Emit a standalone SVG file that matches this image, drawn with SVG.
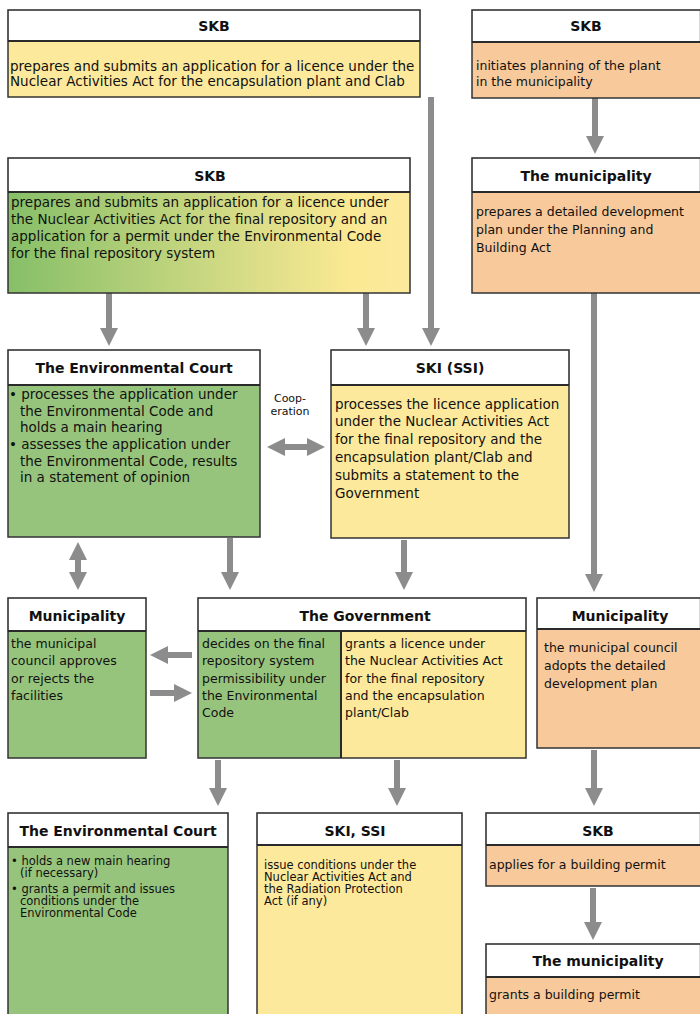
<svg xmlns="http://www.w3.org/2000/svg" width="700" height="1014" viewBox="0 0 700 1014">
<defs>
<style>
.hd{fill:#ffffff;stroke:#b0b0b0;stroke-width:1}
.ol{fill:none;stroke:#333;stroke-width:1.5}
.sep{stroke:#2a2a2a;stroke-width:2}
.g{fill:#97c47c}
.y{fill:#fde99c}
.o{fill:#f8c99b}
.t{font-family:"DejaVu Sans",Verdana,sans-serif;font-weight:bold;font-size:14px;text-anchor:middle;fill:#111}
.b{font-family:"DejaVu Sans",Verdana,sans-serif;font-size:12.5px;fill:#111}
.l{font-family:"DejaVu Sans",Verdana,sans-serif;font-size:13.5px;fill:#111}
.s{font-family:"DejaVu Sans",Verdana,sans-serif;font-size:11.5px;fill:#111}
.c{font-family:"DejaVu Sans",Verdana,sans-serif;font-size:11px;fill:#111;text-anchor:middle}
.ar{stroke:#8c8c8c;stroke-width:6;fill:none}
</style>
<linearGradient id="gy" x1="0" y1="0" x2="1" y2="0">
<stop offset="0" stop-color="#86bf68"/>
<stop offset="0.85" stop-color="#fbe993"/>
<stop offset="1" stop-color="#fde99c"/>
</linearGradient>
<marker id="ah" viewBox="0 0 18 18" markerWidth="18" markerHeight="18" refX="4" refY="9" orient="auto-start-reverse" markerUnits="userSpaceOnUse">
<path d="M0,0 L18,9 L0,18 z" fill="#8c8c8c"/>
</marker>
</defs>
<rect width="700" height="1014" fill="#ffffff"/>

<g id="connectors">
<line class="ar" x1="595" y1="98" x2="595" y2="140" marker-end="url(#ah)"/>
<line class="ar" x1="431" y1="97" x2="431" y2="332" marker-end="url(#ah)"/>
<line class="ar" x1="109" y1="293" x2="109" y2="332" marker-end="url(#ah)"/>
<line class="ar" x1="366" y1="293" x2="366" y2="332" marker-end="url(#ah)"/>
<line class="ar" x1="594" y1="293" x2="594" y2="578" marker-end="url(#ah)"/>
<line class="ar" x1="281" y1="447" x2="311" y2="447" marker-start="url(#ah)" marker-end="url(#ah)"/>
<line class="ar" x1="78" y1="556" x2="78" y2="576" marker-start="url(#ah)" marker-end="url(#ah)"/>
<line class="ar" x1="230" y1="538" x2="230" y2="576" marker-end="url(#ah)"/>
<line class="ar" x1="404" y1="540" x2="404" y2="576" marker-end="url(#ah)"/>
<line class="ar" x1="192" y1="655" x2="164" y2="655" marker-end="url(#ah)"/>
<line class="ar" x1="150" y1="693" x2="178" y2="693" marker-end="url(#ah)"/>
<line class="ar" x1="218" y1="760" x2="218" y2="792" marker-end="url(#ah)"/>
<line class="ar" x1="397" y1="760" x2="397" y2="792" marker-end="url(#ah)"/>
<line class="ar" x1="594" y1="750" x2="594" y2="792" marker-end="url(#ah)"/>
<line class="ar" x1="593" y1="888" x2="593" y2="926" marker-end="url(#ah)"/>
<text class="c" x="290" y="402">Coop-</text>
<text class="c" x="290" y="415">eration</text>
</g>

<g id="skb-top-left">
<rect class="hd" x="8" y="10" width="412" height="31"/>
<rect class="y" x="8" y="41" width="412" height="56"/>
<rect class="ol" x="8" y="10" width="412" height="87"/>
<line class="sep" x1="8" y1="41" x2="420" y2="41"/>
<text class="t" x="214" y="31">SKB</text>
<text class="l" x="10" y="71">prepares and submits an application for a licence under the</text>
<text class="l" x="10" y="86">Nuclear Activities Act for the encapsulation plant and Clab</text>
</g>

<g id="skb-top-right">
<rect class="hd" x="472" y="10" width="228" height="32"/>
<rect class="o" x="472" y="42" width="228" height="56"/>
<rect class="ol" x="472" y="10" width="230" height="88"/>
<line class="sep" x1="472" y1="42" x2="700" y2="42"/>
<text class="t" x="586" y="31">SKB</text>
<text class="b" x="476" y="70">initiates planning of the plant</text>
<text class="b" x="476" y="86">in the municipality</text>
</g>

<g id="municipality-plan">
<rect class="hd" x="472" y="158" width="228" height="34"/>
<rect class="o" x="472" y="192" width="228" height="101"/>
<rect class="ol" x="472" y="158" width="230" height="135"/>
<line class="sep" x1="472" y1="192" x2="700" y2="192"/>
<text class="t" x="586" y="181">The municipality</text>
<text class="b" x="476" y="216">prepares a detailed development</text>
<text class="b" x="476" y="234">plan under the Planning and</text>
<text class="b" x="476" y="252">Building Act</text>
</g>

<g id="skb-application">
<rect class="hd" x="8" y="158" width="402" height="34"/>
<rect x="8" y="192" width="402" height="101" fill="url(#gy)"/>
<rect class="ol" x="8" y="158" width="402" height="135"/>
<line class="sep" x1="8" y1="192" x2="410" y2="192"/>
<text class="t" x="210" y="181">SKB</text>
<text class="l" x="11" y="207">prepares and submits an application for a licence under</text>
<text class="l" x="11" y="224">the Nuclear Activities Act for the final repository and an</text>
<text class="l" x="11" y="241">application for a permit under the Environmental Code</text>
<text class="l" x="11" y="258">for the final repository system</text>
</g>

<g id="environmental-court">
<rect class="hd" x="8" y="350" width="252" height="35"/>
<rect class="g" x="8" y="385" width="252" height="152"/>
<rect class="ol" x="8" y="350" width="252" height="187"/>
<line class="sep" x1="8" y1="385" x2="260" y2="385"/>
<text class="t" x="134" y="373">The Environmental Court</text>
<text class="l" x="9" y="399">• processes the application under</text>
<text class="l" x="20" y="416">the Environmental Code and</text>
<text class="l" x="20" y="432">holds a main hearing</text>
<text class="l" x="9" y="449">• assesses the application under</text>
<text class="l" x="20" y="466">the Environmental Code, results</text>
<text class="l" x="20" y="482">in a statement of opinion</text>
</g>

<g id="ski-ssi">
<rect class="hd" x="331" y="350" width="238" height="35"/>
<rect class="y" x="331" y="385" width="238" height="153"/>
<rect class="ol" x="331" y="350" width="238" height="188"/>
<line class="sep" x1="331" y1="385" x2="569" y2="385"/>
<text class="t" x="450" y="373">SKI (SSI)</text>
<text class="l" x="335" y="409">processes the licence application</text>
<text class="l" x="335" y="426">under the Nuclear Activities Act</text>
<text class="l" x="335" y="444">for the final repository and the</text>
<text class="l" x="335" y="462">encapsulation plant/Clab and</text>
<text class="l" x="335" y="480">submits a statement to the</text>
<text class="l" x="335" y="498">Government</text>
</g>

<g id="municipality-left">
<rect class="hd" x="8" y="598" width="138" height="33"/>
<rect class="g" x="8" y="631" width="138" height="127"/>
<rect class="ol" x="8" y="598" width="138" height="160"/>
<line class="sep" x1="8" y1="631" x2="146" y2="631"/>
<text class="t" x="77" y="621">Municipality</text>
<text class="b" x="11" y="648">the municipal</text>
<text class="b" x="11" y="665">council approves</text>
<text class="b" x="11" y="683">or rejects the</text>
<text class="b" x="11" y="700">facilities</text>
</g>

<g id="government">
<rect class="hd" x="198" y="598" width="328" height="33"/>
<rect class="g" x="198" y="631" width="143" height="127"/>
<rect class="y" x="341" y="631" width="185" height="127"/>
<rect class="ol" x="198" y="598" width="328" height="160"/>
<line class="sep" x1="198" y1="631" x2="526" y2="631"/>
<line class="sep" x1="341" y1="631" x2="341" y2="758"/>
<text class="t" x="365" y="621">The Government</text>
<text class="b" x="202" y="648">decides on the final</text>
<text class="b" x="202" y="665">repository system</text>
<text class="b" x="202" y="683">permissibility under</text>
<text class="b" x="202" y="700">the Environmental</text>
<text class="b" x="202" y="717">Code</text>
<text class="b" x="345" y="648">grants a licence under</text>
<text class="b" x="345" y="665">the Nuclear Activities Act</text>
<text class="b" x="345" y="683">for the final repository</text>
<text class="b" x="345" y="700">and the encapsulation</text>
<text class="b" x="345" y="717">plant/Clab</text>
</g>

<g id="municipality-right">
<rect class="hd" x="537" y="598" width="163" height="31"/>
<rect class="o" x="537" y="629" width="163" height="119"/>
<rect class="ol" x="537" y="598" width="165" height="150"/>
<line class="sep" x1="537" y1="629" x2="700" y2="629"/>
<text class="t" x="620" y="621">Municipality</text>
<text class="b" x="544" y="652">the municipal council</text>
<text class="b" x="544" y="670">adopts the detailed</text>
<text class="b" x="544" y="688">development plan</text>
</g>

<g id="environmental-court-permit">
<rect class="hd" x="8" y="813" width="220" height="34"/>
<rect class="g" x="8" y="847" width="220" height="170"/>
<rect class="ol" x="8" y="813" width="220" height="210"/>
<line class="sep" x1="8" y1="847" x2="228" y2="847"/>
<text class="t" x="118" y="836">The Environmental Court</text>
<text class="s" x="11" y="865">• holds a new main hearing</text>
<text class="s" x="20" y="877">(if necessary)</text>
<text class="s" x="11" y="893">• grants a permit and issues</text>
<text class="s" x="20" y="905">conditions under the</text>
<text class="s" x="20" y="917">Environmental Code</text>
</g>

<g id="ski-ssi-conditions">
<rect class="hd" x="257" y="813" width="205" height="32"/>
<rect class="y" x="257" y="845" width="205" height="172"/>
<rect class="ol" x="257" y="813" width="205" height="210"/>
<line class="sep" x1="257" y1="845" x2="462" y2="845"/>
<text class="t" x="355" y="836">SKI, SSI</text>
<text class="s" x="264" y="869">issue conditions under the</text>
<text class="s" x="264" y="881">Nuclear Activities Act and</text>
<text class="s" x="264" y="893">the Radiation Protection</text>
<text class="s" x="264" y="905">Act (if any)</text>
</g>

<g id="skb-building-permit">
<rect class="hd" x="486" y="813" width="214" height="32"/>
<rect class="o" x="486" y="845" width="214" height="41"/>
<rect class="ol" x="486" y="813" width="216" height="73"/>
<line class="sep" x1="486" y1="845" x2="700" y2="845"/>
<text class="t" x="598" y="836">SKB</text>
<text class="b" x="489" y="869">applies for a building permit</text>
</g>

<g id="municipality-building-permit">
<rect class="hd" x="486" y="944" width="214" height="33"/>
<rect class="o" x="486" y="977" width="214" height="40"/>
<rect class="ol" x="486" y="944" width="216" height="80"/>
<line class="sep" x1="486" y1="977" x2="700" y2="977"/>
<text class="t" x="598" y="966">The municipality</text>
<text class="b" x="489" y="999">grants a building permit</text>
</g>
</svg>
